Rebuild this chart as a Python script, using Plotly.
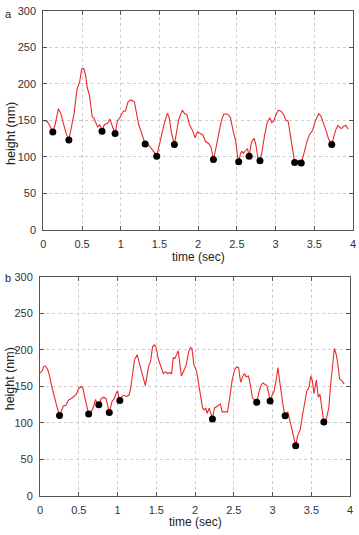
import plotly.graph_objects as go

# ---- data ----
top_t = [0.0, 0.047, 0.076, 0.123, 0.152, 0.195, 0.224, 0.258, 0.292, 0.330, 0.364, 0.398, 0.436, 0.470,
         0.495, 0.521, 0.546, 0.567, 0.597, 0.631, 0.652, 0.681, 0.703, 0.724, 0.741, 0.758, 0.787, 0.830,
         0.859, 0.885, 0.927, 0.957, 0.990, 1.029, 1.062, 1.096, 1.139, 1.177, 1.202, 1.232, 1.274, 1.316,
         1.359, 1.401, 1.465, 1.507, 1.562, 1.604, 1.625, 1.655, 1.693, 1.719, 1.748, 1.795, 1.825, 1.854,
         1.888, 1.930, 1.960, 1.989, 2.032, 2.061, 2.095, 2.137, 2.167, 2.197, 2.231, 2.265, 2.298, 2.328,
         2.362, 2.391, 2.417, 2.451, 2.484, 2.506, 2.523, 2.548, 2.565, 2.586, 2.611, 2.637, 2.658, 2.688,
         2.722, 2.747, 2.772, 2.798, 2.827, 2.857, 2.891, 2.925, 2.950, 2.976, 3.005, 3.035, 3.069, 3.103,
         3.136, 3.162, 3.196, 3.221, 3.246, 3.289, 3.331, 3.365, 3.407, 3.441, 3.475, 3.513, 3.556, 3.585,
         3.619, 3.653, 3.683, 3.725, 3.755, 3.780, 3.805, 3.831, 3.856, 3.882, 3.907, 3.937]
top_h = [149.5, 149, 144, 134, 144, 166, 160, 146, 133, 123, 144, 160, 193, 203,
         220, 221, 212, 195, 184, 155, 153, 146, 141, 144, 141, 135, 144, 146,
         152, 144, 132, 149, 154, 162, 163, 176, 178, 175, 162, 144, 131, 117.5,
         116, 111, 101, 120, 146, 160, 154, 133, 117, 133, 151, 164, 159, 158,
         144, 135.5, 126, 134, 131, 130, 121, 118, 113, 96.4, 113, 133.5, 149, 158,
         159, 157.6, 153.6, 135.7, 122, 103, 93.3, 105, 107.6, 105, 109, 111, 101, 120,
         125.5, 115.6, 98, 94.6, 109, 129, 147, 153.6, 147, 149, 158, 164, 162.5, 158,
         150, 149, 124.6, 106.7, 92.4, 95.5, 91.5, 104.5, 122, 131, 135.7, 149, 159, 156,
         147, 135.7, 124.6, 117, 129, 138, 143, 140, 139, 142.4, 143, 138]
top_dot_t = [0.123, 0.330, 0.758, 0.927, 1.316, 1.465, 1.693, 2.197, 2.523, 2.658, 2.798, 3.246, 3.331, 3.725]
top_dot_h = [134, 123, 135, 132, 117.5, 101, 117, 96.4, 93.3, 101, 94.6, 92.4, 91.5, 117]

bot_t = [0.0, 0.026, 0.047, 0.069, 0.098, 0.124, 0.153, 0.183, 0.217, 0.251, 0.280, 0.301, 0.335, 0.365,
         0.399, 0.437, 0.470, 0.504, 0.534, 0.555, 0.576, 0.597, 0.627, 0.661, 0.690, 0.716, 0.733, 0.758,
         0.788, 0.821, 0.851, 0.872, 0.893, 0.927, 0.957, 0.978, 0.999, 1.012, 1.029, 1.054, 1.084, 1.113,
         1.147, 1.168, 1.189, 1.219, 1.253, 1.282, 1.308, 1.337, 1.358, 1.379, 1.401, 1.426, 1.451, 1.477,
         1.498, 1.527, 1.561, 1.591, 1.621, 1.646, 1.675, 1.697, 1.718, 1.739, 1.760, 1.781, 1.794, 1.823,
         1.853, 1.887, 1.917, 1.942, 1.959, 1.984, 2.021, 2.046, 2.076, 2.097, 2.118, 2.139, 2.156, 2.181,
         2.203, 2.224, 2.249, 2.287, 2.325, 2.351, 2.384, 2.418, 2.448, 2.477, 2.511, 2.537, 2.562, 2.587,
         2.613, 2.638, 2.659, 2.689, 2.714, 2.739, 2.765, 2.795, 2.824, 2.850, 2.875, 2.900, 2.926, 2.951,
         2.968, 2.994, 3.019, 3.048, 3.069, 3.090, 3.112, 3.137, 3.162, 3.196, 3.230, 3.260, 3.298, 3.323,
         3.357, 3.387, 3.416, 3.442, 3.471, 3.492, 3.513, 3.534, 3.564, 3.589, 3.611, 3.627, 3.661, 3.695,
         3.725, 3.746, 3.767, 3.797, 3.822, 3.843, 3.864, 3.894, 3.924]
bot_h = [168, 171, 177, 178, 173, 164, 149, 135, 122, 110, 118, 123, 124, 131,
         133, 136, 140, 148, 149.6, 146.5, 135, 124, 112, 115, 122, 132, 127, 124.7,
         133, 135, 133, 124, 114, 128.8, 133, 139, 144, 137, 130.5, 136, 137.7, 136,
         137.7, 146.6, 166.6, 186.6, 193, 182, 169, 157.7, 151, 164, 177.7, 184, 204, 206.7,
         203, 186.6, 175.5, 167.5, 170, 167.5, 169, 166.6, 189, 188, 193, 198.7, 189, 164,
         171, 180, 197.8, 203, 202, 180, 170, 153, 135, 120, 117.6, 120, 113, 120,
         113, 105, 120, 123, 125.6, 115, 114.5, 115, 135, 157.7, 173, 176.4, 175.5, 155.5,
         163, 167.5, 163, 164, 151, 134.5, 131, 128, 142, 151, 154.6, 153, 151, 140,
         130, 137.7, 143.5, 160, 175.5, 157.7, 140, 122, 109.6, 115, 100, 86.5, 68.6, 82,
         91, 111, 131, 144, 149, 164, 157.7, 140, 158.6, 135, 139, 126.5, 101, 106.5,
         120, 149, 175.5, 202, 193, 180, 160, 157.7, 153]
bot_dot_t = [0.251, 0.627, 0.758, 0.893, 1.029, 2.224, 2.795, 2.968, 3.162, 3.298, 3.661]
bot_dot_h = [110, 112, 124.7, 114, 130.5, 105, 128, 130, 109.6, 68.6, 101]

x_ticks = [0, 0.5, 1, 1.5, 2, 2.5, 3, 3.5, 4]
x_tick_text = ["0", "0.5", "1", "1.5", "2", "2.5", "3", "3.5", "4"]
y_ticks = [0, 50, 100, 150, 200, 250, 300]
panel_labels = ["a", "b"]
x_title = "time (sec)"
y_title = "height (nm)"

# ---- figure ----
W, H = 359, 535
FONT = "Liberation Sans, Arial, sans-serif"
LINE_RED = "#ea2a2a"

fig = go.Figure()
fig.add_trace(go.Scatter(x=top_t, y=top_h, mode="lines", line=dict(color=LINE_RED, width=1.1),
                         xaxis="x", yaxis="y", showlegend=False))
fig.add_trace(go.Scatter(x=top_dot_t, y=top_dot_h, mode="markers", marker=dict(color="black", size=7),
                         xaxis="x", yaxis="y", showlegend=False))
fig.add_trace(go.Scatter(x=bot_t, y=bot_h, mode="lines", line=dict(color=LINE_RED, width=1.1),
                         xaxis="x2", yaxis="y2", showlegend=False))
fig.add_trace(go.Scatter(x=bot_dot_t, y=bot_dot_h, mode="markers", marker=dict(color="black", size=7),
                         xaxis="x2", yaxis="y2", showlegend=False))

def px_x(p):
    return p / W

def px_y(p):
    return 1 - p / H

axis_common = dict(
    showgrid=True, gridcolor="#cccccc", griddash="3px,3px", gridwidth=1,
    showline=True, linecolor="#555555", linewidth=1, mirror="ticks",
    ticks="inside", ticklen=4, tickcolor="#555555",
    tickfont=dict(family=FONT, size=11, color="#333333"),
    zeroline=False, fixedrange=True,
)

fig.update_layout(
    width=W, height=H,
    margin=dict(l=0, r=0, t=0, b=0),
    paper_bgcolor="white", plot_bgcolor="white",
    xaxis=dict(domain=[px_x(41), px_x(356)], range=[0, 4], tickvals=x_ticks, ticktext=x_tick_text,
               anchor="y", ticklabelstandoff=4, **axis_common),
    yaxis=dict(domain=[px_y(229), px_y(5)], range=[0, 300], tickvals=y_ticks,
               anchor="x", ticklabelstandoff=4, **axis_common),
    xaxis2=dict(domain=[px_x(37.7), px_x(353)], range=[0, 4], tickvals=x_ticks, ticktext=x_tick_text,
                anchor="y2", ticklabelstandoff=4, **axis_common),
    yaxis2=dict(domain=[px_y(501), px_y(277)], range=[0, 300], tickvals=y_ticks,
                anchor="x2", ticklabelstandoff=4, **axis_common),
)

annots = [
    dict(text=panel_labels[0], x=px_x(5.5), y=px_y(8)),
    dict(text=panel_labels[1], x=px_x(5.5), y=px_y(278)),
]
for a in annots:
    fig.add_annotation(xref="paper", yref="paper", x=a["x"], y=a["y"], text=a["text"],
                       showarrow=False, xanchor="center", yanchor="middle",
                       font=dict(family=FONT, size=11, color="#222222"))

for cx, cy in [(198.5, 257), (196, 528)]:
    fig.add_annotation(xref="paper", yref="paper", x=px_x(cx), y=px_y(cy), text=x_title,
                       showarrow=False, xanchor="center", yanchor="middle",
                       font=dict(family=FONT, size=12, color="#222222"))
for cy in [130, 381]:
    fig.add_annotation(xref="paper", yref="paper", x=px_x(8), y=px_y(cy), text=y_title,
                       showarrow=False, xanchor="center", yanchor="middle", textangle=-90,
                       font=dict(family=FONT, size=12.5, color="#222222"))

fig.write_html("out.html")
